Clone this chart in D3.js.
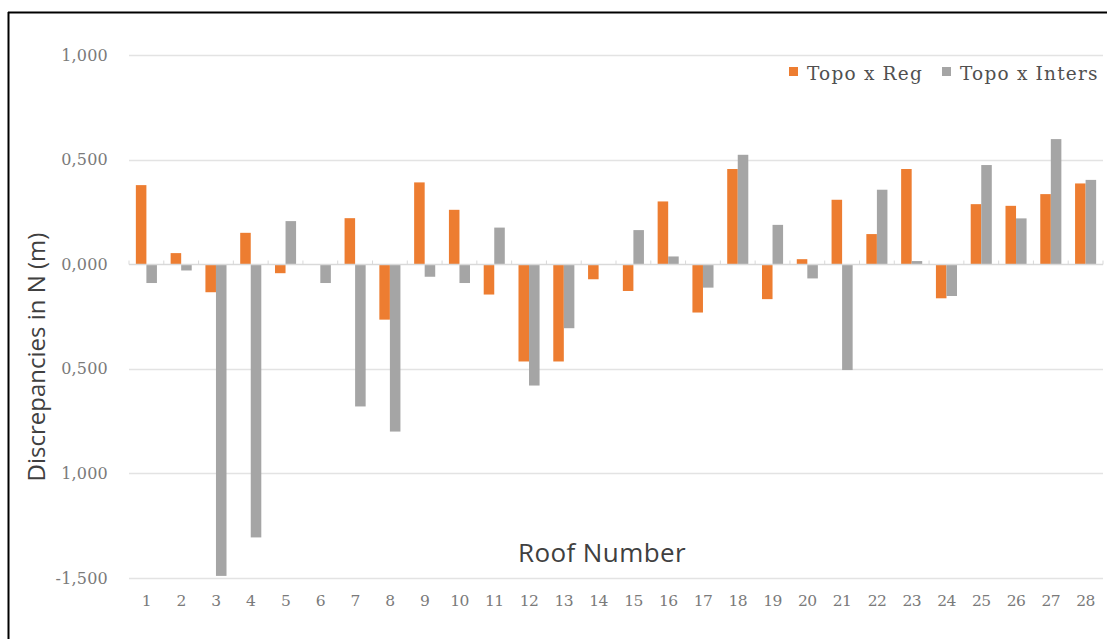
<!DOCTYPE html>
<html>
<head>
<meta charset="utf-8">
<script src="https://cdn.jsdelivr.net/npm/d3@7"></script>
<style>
  html, body { margin: 0; padding: 0; background: #fff; }
  svg { display: block; }
</style>
</head>
<body>
<svg id="chart" width="1107" height="639"></svg>
<script>
// Roof numbers and the two discrepancy series (metres, northing)
const roofs = d3.range(1, 29).map(String);
const topoReg = [0.378, 0.053, -0.134, 0.150, -0.043, 0.000, 0.220, -0.265, 0.391, 0.260,
                 -0.145, -0.465, -0.465, -0.072, -0.128, 0.300, -0.231, 0.455, -0.167, 0.024,
                 0.308, 0.144, 0.455, -0.163, 0.287, 0.279, 0.335, 0.386];
const topoInters = [-0.090, -0.030, -1.490, -1.306, 0.206, -0.090, -0.680, -0.800, -0.060, -0.090,
                    0.175, -0.580, -0.306, 0.000, 0.163, 0.037, -0.112, 0.523, 0.188, -0.068,
                    -0.506, 0.356, 0.015, -0.152, 0.474, 0.219, 0.598, 0.403];
const yTicks = [1.0, 0.5, 0.0, -0.5, -1.0, -1.5];
const yTickLabels = ["1,000", "0,500", "0,000", "0,500", "1,000", "-1,500"];
const seriesNames = ["Topo x Reg", "Topo x Inters"];
const colors = ["#ed7d31", "#a5a5a5"];

const svg = d3.select("#chart");
const W = 1107, H = 639;
const plot = { left: 129, right: 1103, top: 55, bottom: 578 };

// frame lines (top and left)
svg.append("line").attr("x1", 8).attr("x2", W).attr("y1", 12.5).attr("y2", 12.5)
  .attr("stroke", "#000").attr("stroke-width", 2);
svg.append("line").attr("x1", 8.5).attr("x2", 8.5).attr("y1", 12).attr("y2", H)
  .attr("stroke", "#000").attr("stroke-width", 2);

const x = d3.scaleBand().domain(roofs).range([plot.left, plot.right]).paddingInner(0).paddingOuter(0);
const y = d3.scaleLinear().domain([-1.5, 1.0]).range([plot.bottom, plot.top]);
const inner = d3.scaleBand().domain([0, 1]).range([0, x.bandwidth()]).paddingInner(0).paddingOuter(0.65);

// gridlines
svg.append("g").selectAll("line").data(yTicks.filter(v => v !== 0)).join("line")
  .attr("x1", plot.left).attr("x2", plot.right)
  .attr("y1", d => Math.round(y(d)) + 0.5).attr("y2", d => Math.round(y(d)) + 0.5)
  .attr("stroke", "#e3e3e3").attr("stroke-width", 1.5);

// y tick labels
svg.append("g").selectAll("text").data(yTicks).join("text")
  .attr("x", 108).attr("y", d => y(d))
  .attr("dy", "0.35em").attr("text-anchor", "end")
  .attr("font-family", "DejaVu Serif, serif").attr("font-size", 16)
  .attr("letter-spacing", 0.2)
  .attr("fill", "#7a7a7a")
  .text((d, i) => yTickLabels[i]);

// bars
const series = [topoReg, topoInters];
series.forEach((vals, si) => {
  svg.append("g").selectAll("rect").data(vals).join("rect")
    .attr("x", (d, i) => x(roofs[i]) + inner(si))
    .attr("width", inner.bandwidth())
    .attr("y", d => Math.min(y(d), y(0)))
    .attr("height", d => Math.abs(y(d) - y(0)))
    .attr("fill", colors[si]);
});

// zero axis line with category ticks
const y0 = Math.round(y(0)) + 0.5;
svg.append("line").attr("x1", plot.left).attr("x2", plot.right)
  .attr("y1", y0).attr("y2", y0).attr("stroke", "#d9d9d9").attr("stroke-width", 1.5);
svg.append("g").selectAll("line").data(d3.range(roofs.length + 1)).join("line")
  .attr("x1", i => plot.left + i * x.step()).attr("x2", i => plot.left + i * x.step())
  .attr("y1", y0 - 4).attr("y2", y0)
  .attr("stroke", "#d9d9d9").attr("stroke-width", 1);

// x tick labels
svg.append("g").selectAll("text").data(roofs).join("text")
  .attr("x", d => x(d) + x.bandwidth() / 2).attr("y", 606)
  .attr("text-anchor", "middle")
  .attr("font-family", "DejaVu Serif, serif").attr("font-size", 15.5)
  .attr("letter-spacing", -0.6)
  .attr("fill", "#7a7a7a")
  .text(d => d);

// axis titles
svg.append("text")
  .attr("x", 602).attr("y", 562).attr("text-anchor", "middle")
  .attr("font-family", "Open Sans, sans-serif").attr("font-size", 26)
  .attr("letter-spacing", 0.4)
  .attr("fill", "#404040").text("Roof Number");
svg.append("text")
  .attr("transform", "translate(45,357) rotate(-90)").attr("text-anchor", "middle")
  .attr("font-family", "Open Sans, sans-serif").attr("font-size", 24)
  .attr("fill", "#404040").text("Discrepancies in N (m)");

// legend
const legend = svg.append("g");
const legendItems = [{ x: 789, name: seriesNames[0], c: colors[0] }, { x: 942, name: seriesNames[1], c: colors[1] }];
legendItems.forEach(it => {
  legend.append("rect").attr("x", it.x).attr("y", 67).attr("width", 9).attr("height", 9).attr("fill", it.c);
  legend.append("text").attr("x", it.x + 18).attr("y", 80)
    .attr("font-family", "DejaVu Serif, serif").attr("font-size", 18.5)
    .attr("letter-spacing", 1.2)
    .attr("fill", "#505050").text(it.name);
});
</script>
</body>
</html>
